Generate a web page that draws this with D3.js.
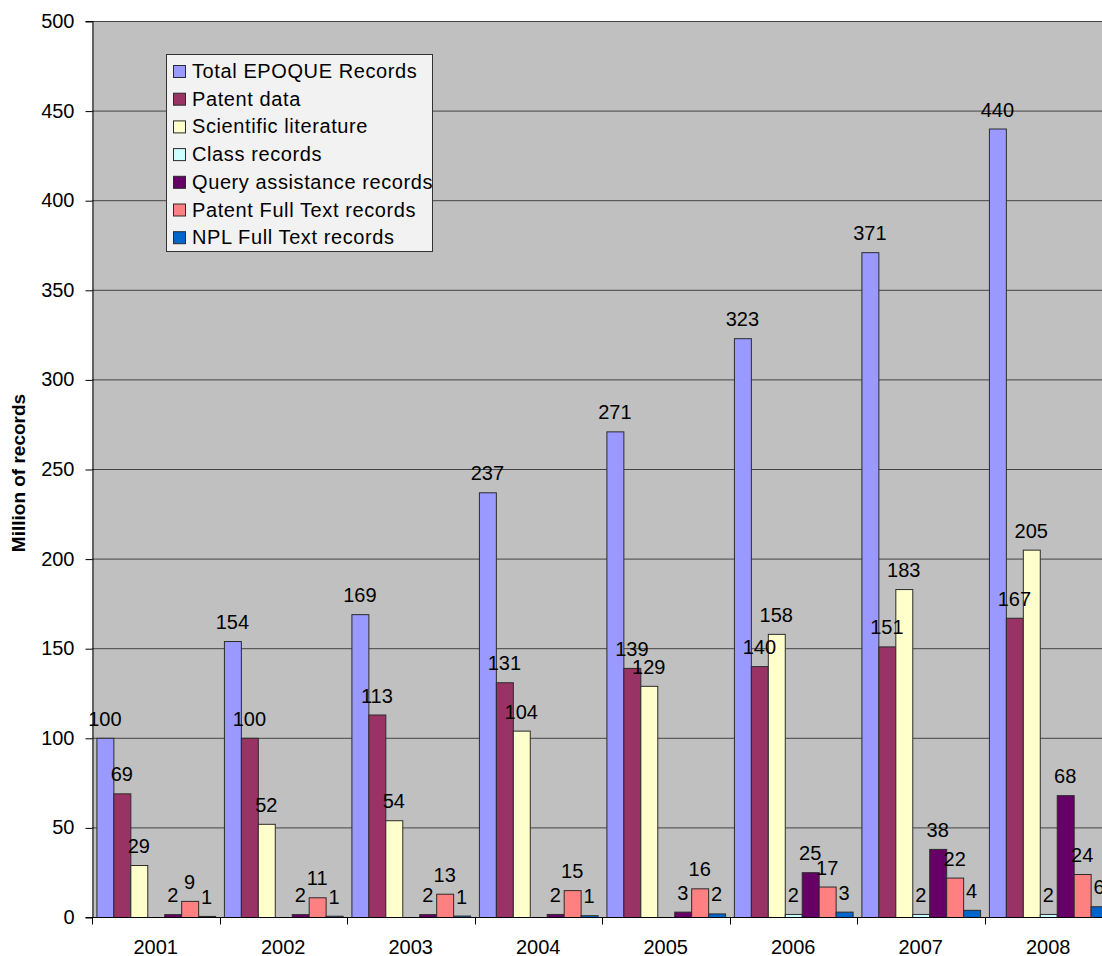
<!DOCTYPE html>
<html>
<head>
<meta charset="utf-8">
<script src="https://cdn.jsdelivr.net/npm/d3@7"></script>
<style>
  body { margin: 0; background: #fff; }
  svg { display: block; font-family: "Liberation Sans", Arial, sans-serif; }
</style>
</head>
<body>
<div id="chart"></div>
<script>
(function(d3) {
  'use strict';

  // data (million records)
  var years = ['2001', '2002', '2003', '2004', '2005', '2006', '2007', '2008'];
  var seriesNames = ['Total EPOQUE Records', 'Patent data', 'Scientific literature', 'Class records',
                     'Query assistance records', 'Patent Full Text records', 'NPL Full Text records'];
  var totalRecords  = [100, 154, 169, 237, 271, 323, 371, 440];
  var patentData    = [69, 100, 113, 131, 139, 140, 151, 167];
  var sciLiterature = [29, 52, 54, 104, 129, 158, 183, 205];
  var classRecords  = [null, null, null, null, null, 1.7, 1.7, 1.7];
  var queryRecords  = [1.6, 1.6, 1.6, 1.7, 3, 25, 38, 68];
  var patentFullText = [9, 11, 13, 15, 16, 17, 22, 24];
  var nplFullText   = [0.6, 0.7, 0.8, 1, 2, 3, 4, 6];
  var yTicks = [0, 50, 100, 150, 200, 250, 300, 350, 400, 450, 500];

  var seriesValues = [totalRecords, patentData, sciLiterature, classRecords,
                      queryRecords, patentFullText, nplFullText];
  var colors = ['#9999FF', '#993366', '#FFFFCC', '#CCFFFF', '#660066', '#FF8080', '#0066CC'];

  var width = 1102, height = 956;
  var left = 92, top = 21, plotRight = 1112, bottom = 917;

  var color = d3.scaleOrdinal().domain(seriesNames).range(colors);

  var x0 = d3.scaleBand().domain(years).range([left, plotRight]).padding(0);
  var x1 = d3.scaleBand().domain(seriesNames).range([0, x0.bandwidth()])
             .paddingInner(0).paddingOuter(0.26);
  var y = d3.scaleLinear().domain([0, 500]).range([bottom, top]);
  var fmt = d3.format('.0f');

  var svg = d3.select('#chart').append('svg')
    .attr('width', width)
    .attr('height', height);

  // plot background
  svg.append('rect')
    .attr('x', left).attr('y', top)
    .attr('width', plotRight - left).attr('height', bottom - top)
    .attr('fill', '#C0C0C0');

  // gridlines
  svg.append('g').selectAll('line')
    .data(yTicks.filter(function(d) { return d > 0; }))
    .enter().append('line')
    .attr('x1', left).attr('x2', plotRight)
    .attr('y1', function(d) { return y(d) + 0.5; })
    .attr('y2', function(d) { return y(d) + 0.5; })
    .attr('stroke', '#444')
    .attr('stroke-width', 1);

  // bars
  var rows = years.map(function(yr, i) {
    return { year: yr, values: seriesNames.map(function(s, j) {
      return { key: s, value: seriesValues[j][i] };
    }) };
  });

  var groups = svg.append('g').selectAll('g')
    .data(rows)
    .enter().append('g')
    .attr('transform', function(d) { return 'translate(' + x0(d.year) + ',0)'; });

  groups.selectAll('rect')
    .data(function(d) { return d.values.filter(function(v) { return v.value != null; }); })
    .enter().append('rect')
    .attr('x', function(d) { return x1(d.key) + 0.5; })
    .attr('y', function(d) { return y(d.value) + 0.5; })
    .attr('width', x1.bandwidth())
    .attr('height', function(d) { return Math.max(0, bottom - y(d.value)); })
    .attr('fill', function(d) { return color(d.key); })
    .attr('stroke', '#2b2b2b')
    .attr('stroke-width', 1);

  // value labels
  groups.selectAll('text')
    .data(function(d) { return d.values.filter(function(v) { return v.value != null; }); })
    .enter().append('text')
    .attr('x', function(d) { return x1(d.key) + x1.bandwidth() / 2; })
    .attr('y', function(d) { return y(d.value) - 12; })
    .attr('text-anchor', 'middle')
    .attr('font-size', '20px')
    .attr('fill', '#000')
    .text(function(d) { return fmt(d.value); });

  // y axis
  var yAxis = svg.append('g')
    .attr('transform', 'translate(' + (left + 0.5) + ',0)')
    .call(d3.axisLeft(y).tickValues(yTicks).tickSize(7).tickPadding(11));
  yAxis.select('.domain').attr('stroke', '#000');
  yAxis.selectAll('.tick line').attr('stroke', '#000').attr('transform', 'translate(0,0.5)');
  yAxis.selectAll('.tick text')
    .attr('font-size', '20px')
    .attr('font-family', '"Liberation Sans", Arial, sans-serif')
    .attr('fill', '#000');

  // x axis: ticks on category boundaries
  var xAxis = svg.append('g')
    .attr('transform', 'translate(0,' + (bottom + 0.5) + ')');
  xAxis.append('line')
    .attr('x1', left).attr('x2', plotRight)
    .attr('stroke', '#000');
  xAxis.selectAll('line.tk')
    .data(years)
    .enter().append('line')
    .attr('class', 'tk')
    .attr('x1', function(d) { return Math.round(x0(d)) + 0.5; })
    .attr('x2', function(d) { return Math.round(x0(d)) + 0.5; })
    .attr('y1', 0).attr('y2', 7)
    .attr('stroke', '#000');
  xAxis.selectAll('text')
    .data(years)
    .enter().append('text')
    .attr('x', function(d) { return x0(d) + x0.bandwidth() / 2; })
    .attr('y', 36)
    .attr('text-anchor', 'middle')
    .attr('font-size', '20px')
    .text(function(d) { return d; });

  // y axis title
  svg.append('text')
    .attr('transform', 'translate(25,473) rotate(-90)')
    .attr('text-anchor', 'middle')
    .attr('font-size', '19px')
    .attr('font-weight', 'bold')
    .text('Million of records');

  // legend
  var legend = svg.append('g').attr('transform', 'translate(166,54)');
  legend.append('rect')
    .attr('x', 0.5).attr('y', 0.5)
    .attr('width', 266).attr('height', 197)
    .attr('fill', '#F2F2F2')
    .attr('stroke', '#333');

  var item = legend.selectAll('g.item')
    .data(seriesNames)
    .enter().append('g')
    .attr('class', 'item')
    .attr('transform', function(d, i) { return 'translate(0,' + (11 + i * 27.7) + ')'; });
  item.append('rect')
    .attr('x', 7.5).attr('y', 0.5)
    .attr('width', 12).attr('height', 12)
    .attr('fill', function(d) { return color(d); })
    .attr('stroke', '#2b2b2b');
  item.append('text')
    .attr('x', 26)
    .attr('y', 13)
    .attr('font-size', '20px')
    .attr('letter-spacing', '0.6px')
    .text(function(d) { return d; });

})(window.d3);
</script>
</body>
</html>
